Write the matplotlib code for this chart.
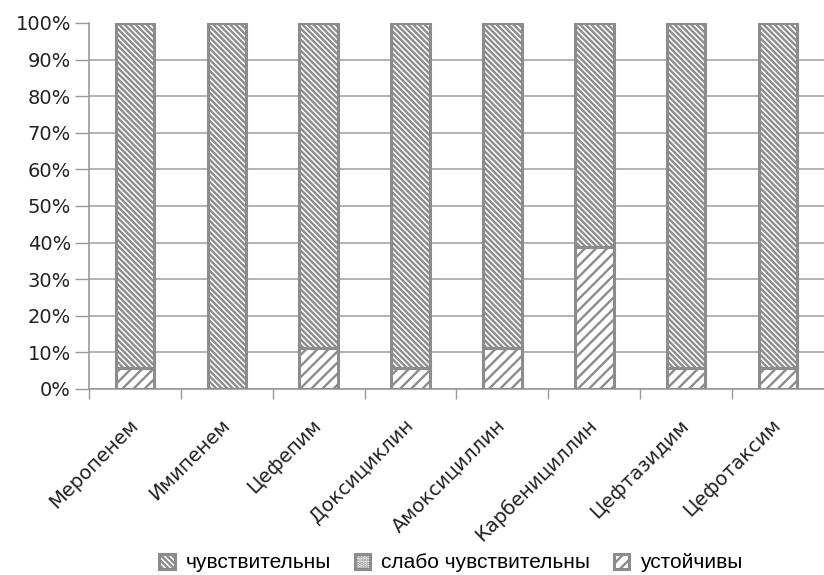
import matplotlib.pyplot as plt
import numpy as np

# Antibiotic susceptibility shares
drugs = ["Меропенем", "Имипенем", "Цефепим", "Доксициклин",
         "Амоксициллин", "Карбенициллин", "Цефтазидим", "Цефотаксим"]
resistant = [0.056, 0.0, 0.111, 0.056, 0.111, 0.389, 0.056, 0.056]
weak = [0.0, 0.0, 0.0, 0.0, 0.0, 0.0, 0.0, 0.0]
sensitive = [0.944, 1.0, 0.889, 0.944, 0.889, 0.611, 0.944, 0.944]

plt.rcParams['hatch.linewidth'] = 1.7
grey = '#8c8c8c'

fig = plt.figure(figsize=(8.24, 5.75), dpi=100)
ax = fig.add_axes([0.108, 0.3235, 0.892, 0.6365])

x = np.arange(len(drugs))
w = 0.42
res = np.array(resistant)
wk = np.array(weak)
sen = np.array(sensitive)

ax.bar(x, res, w, color='white', edgecolor=grey, hatch='///', linewidth=2.2,
       label='устойчивы', zorder=3)
ax.bar(x, wk, w, bottom=res, color='white', edgecolor=grey, hatch='.....',
       linewidth=2.2, label='слабо чувствительны', zorder=3)
ax.bar(x, sen, w, bottom=res + wk, color='white', edgecolor=grey,
       hatch='\\\\\\\\\\\\', linewidth=2.2, label='чувствительны', zorder=3)

ax.set_xlim(-0.5, len(drugs) - 0.5)
ax.set_ylim(0, 1.0)
ticks = np.arange(0, 1.01, 0.1)
ax.set_yticks(ticks)
ax.set_yticklabels([f"{int(round(v * 100))}%" for v in ticks],
                   fontsize=14, color='#222222')
ax.set_xticks(x)
ax.set_xticklabels(drugs, rotation=45, ha='right', va='center',
                   rotation_mode='anchor', fontsize=14, color='#222222')
# tick marks sit between categories
ax.set_xticks(np.arange(-0.5, len(drugs) - 0.5, 1), minor=True)
ax.tick_params(axis='x', which='major', length=0, pad=24)
ax.tick_params(axis='x', which='minor', length=7, color='#999999', width=1)
ax.tick_params(axis='y', length=10, color='#999999', width=1, pad=3)

ax.yaxis.grid(True, color='#a6a6a6', linewidth=1.2, zorder=0)
ax.get_ygridlines()[-1].set_visible(False)
ax.set_axisbelow(True)

for s in ['top', 'right']:
    ax.spines[s].set_visible(False)
for s in ['left', 'bottom']:
    ax.spines[s].set_color('#999999')
    ax.spines[s].set_linewidth(1.2)

handles, labels = ax.get_legend_handles_labels()
fig.legend(handles[::-1], labels[::-1], loc='center', ncol=3,
           bbox_to_anchor=(0.547, 0.021), frameon=False,
           handlelength=0.75, handleheight=0.75, handletextpad=0.5,
           columnspacing=1.15, prop={'family': 'Liberation Sans', 'size': 15})

fig.savefig('out.png', dpi=100)
